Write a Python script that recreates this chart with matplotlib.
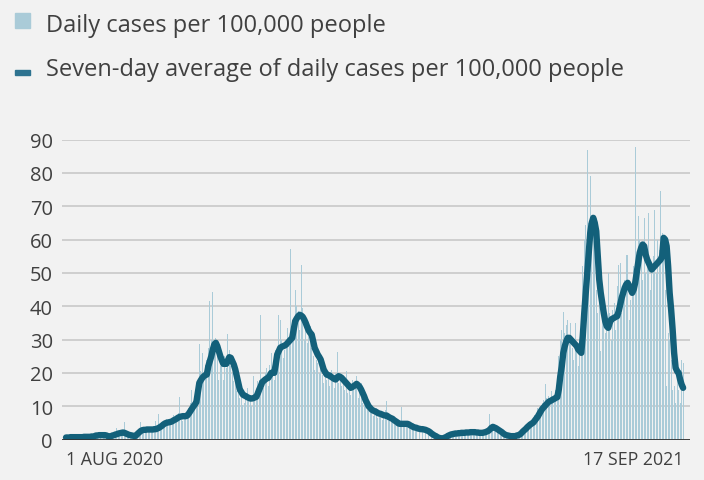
import numpy as np
import matplotlib.pyplot as plt
from matplotlib.patches import Rectangle

# Tagesdaten ab 1. Aug 2020 bis 17. Sep 2021 (eine Zeile pro Woche)
daily_cases = [
    0.5, 0.8, 0.6, 0.9, 0.6, 0.7, 0.5,
    0.6, 1.0, 0.7, 0.8, 0.9, 0.6, 0.9,
    0.7, 1.1, 0.8, 1.0, 1.2, 1.4, 1.5,
    1.1, 1.6, 1.2, 1.5, 2.0, 1.0, 0.8,
    0.7, 0.9, 1.3, 1.6, 1.8, 2.0, 3.5,
    2.2, 1.7, 2.4, 2.6, 5.2, 1.5, 1.1,
    1.3, 1.0, 0.9, 1.2, 1.1, 2.6, 3.0,
    3.2, 5.2, 2.8, 2.4, 3.6, 3.1, 2.7,
    2.9, 3.8, 2.5, 3.2, 5.5, 3.0, 7.7,
    4.0, 3.5, 4.6, 5.6, 6.1, 4.8, 5.0,
    6.2, 5.0, 7.4, 5.8, 6.6, 8.0, 12.7,
    6.0, 5.6, 6.8, 7.5, 8.2, 9.5, 11.0,
    15.0, 10.2, 12.6, 13.5, 17.0, 28.7, 20.5,
    26.0, 18.0, 22.5, 24.0, 27.5, 41.7, 30.0,
    44.2, 28.0, 30.5, 25.5, 18.0, 22.0, 24.5,
    18.0, 25.0, 21.5, 31.7, 27.0, 22.0, 20.0,
    17.5, 19.0, 14.5, 16.0, 12.5, 13.0, 10.5,
    11.0, 14.0, 15.5, 12.0, 11.5, 10.0, 19.0,
    12.0, 13.5, 17.5, 18.0, 37.4, 17.0, 15.5,
    20.0, 21.5, 16.0, 22.5, 26.0, 20.0, 18.0,
    27.0, 24.5, 37.4, 36.0, 30.0, 24.5, 27.0,
    29.0, 33.5, 28.0, 57.2, 36.0, 30.0, 45.0,
    40.0, 38.5, 33.0, 52.4, 39.5, 30.0, 35.5,
    29.0, 31.0, 34.0, 27.5, 25.0, 21.0, 24.0,
    23.0, 20.0, 22.5, 19.5, 17.0, 21.5, 18.0,
    18.5, 16.0, 21.0, 17.5, 15.5, 20.0, 26.4,
    17.0, 19.5, 16.0, 18.5, 15.0, 20.5, 14.0,
    15.0, 13.5, 18.0, 15.5, 17.5, 19.0, 12.5,
    14.0, 17.0, 11.0, 10.5, 12.0, 9.0, 8.5,
    9.0, 10.5, 7.0, 8.0, 9.5, 6.5, 7.5,
    8.5, 6.0, 7.0, 9.0, 11.5, 5.5, 6.0,
    6.5, 5.0, 6.8, 4.5, 4.0, 5.5, 4.2,
    9.7, 3.8, 4.5, 5.0, 4.0, 3.5, 4.6,
    3.0, 4.2, 3.5, 2.8, 3.6, 3.9, 2.6,
    3.4, 2.5, 2.7, 3.0, 2.2, 1.5, 1.4,
    1.2, 0.9, 0.7, 0.5, 0.4, 0.3, 0.6,
    0.5, 0.9, 1.4, 1.6, 1.2, 2.0, 1.8,
    1.5, 2.4, 1.7, 2.2, 1.9, 2.5, 1.6,
    2.3, 1.8, 2.6, 2.0, 2.4, 2.1, 2.9,
    1.8, 2.5, 2.0, 2.3, 1.6, 2.2, 2.6,
    2.0, 2.8, 3.2, 7.7, 4.0, 3.5, 3.0,
    3.3, 2.4, 2.1, 1.9, 1.7, 1.5, 1.2,
    1.0, 1.3, 0.8, 1.2, 0.9, 1.1, 1.4,
    1.6, 1.9, 2.4, 3.0, 3.6, 3.2, 4.5,
    4.8, 5.2, 5.0, 6.0, 6.5, 7.5, 8.0,
    9.5, 8.5, 10.0, 11.0, 12.0, 16.7, 12.5,
    13.0, 11.5, 14.5, 12.0, 13.5, 15.0, 17.0,
    25.0, 30.0, 33.0, 38.2, 32.0, 34.5, 36.0,
    31.0, 35.0, 27.5, 24.0, 35.0, 26.5, 22.0,
    30.0, 34.0, 52.0, 60.0, 64.5, 87.0, 65.0,
    79.0, 66.0, 62.0, 58.0, 45.0, 38.0, 42.0,
    26.5, 40.0, 35.0, 32.0, 36.0, 50.0, 38.0,
    30.0, 39.0, 41.0, 33.0, 46.0, 52.5, 53.0,
    38.0, 44.0, 48.0, 55.5, 55.5, 36.0, 42.0,
    46.0, 52.0, 87.8, 55.0, 67.0, 60.0, 58.0,
    48.0, 66.5, 50.0, 56.0, 68.0, 45.0, 53.0,
    55.0, 69.0, 50.0, 60.0, 57.0, 74.5, 62.0,
    58.0, 45.0, 16.0, 32.0, 30.0, 24.0, 15.0,
    16.0, 11.0, 21.0, 15.0, 11.0, 24.0, 23.0,
]

# Sieben-Tage-Mittel
seven_day_avg = [
    0.6, 0.6, 0.6, 0.7, 0.7, 0.7, 0.7,
    0.7, 0.7, 0.7, 0.7, 0.7, 0.8, 0.8,
    0.8, 0.8, 0.8, 0.9, 0.9, 1.0, 1.2,
    1.2, 1.3, 1.3, 1.3, 1.3, 1.3, 1.2,
    1.0, 0.9, 1.0, 1.2, 1.3, 1.5, 1.6,
    1.8, 1.9, 2.0, 2.1, 2.0, 1.8, 1.6,
    1.4, 1.3, 1.2, 1.1, 1.0, 1.3, 1.8,
    2.2, 2.6, 2.8, 2.9, 2.9, 3.0, 3.0,
    3.0, 3.0, 3.0, 3.1, 3.1, 3.3, 3.5,
    3.8, 4.1, 4.5, 4.8, 5.0, 5.1, 5.2,
    5.3, 5.5, 5.8, 6.0, 6.3, 6.6, 6.8,
    6.9, 7.0, 7.0, 7.0, 7.2, 7.8, 8.5,
    9.2, 9.9, 10.5, 11.2, 14.0, 17.0, 17.8,
    18.5, 19.0, 19.3, 19.5, 22.0, 23.5, 25.0,
    27.0, 28.5, 29.0, 28.0, 26.5, 25.0, 23.8,
    22.7, 22.7, 22.7, 23.7, 24.7, 24.5, 23.5,
    22.5, 21.0, 19.0, 17.0, 15.0, 14.3, 13.5,
    13.2, 13.0, 12.7, 12.5, 12.3, 12.3, 12.4,
    12.6, 12.8, 13.8, 15.0, 16.0, 17.2, 17.6,
    18.0, 18.3, 18.5, 19.2, 20.0, 20.0, 20.0,
    22.5, 25.5, 26.5, 27.5, 27.8, 28.0, 28.2,
    28.5, 29.0, 29.5, 30.0, 30.5, 33.0, 35.5,
    36.3, 37.0, 37.4, 37.2, 36.8, 36.0, 35.0,
    33.8, 32.7, 32.0, 31.5, 29.5, 27.5, 26.5,
    25.5, 24.8, 24.0, 22.5, 21.0, 20.2, 19.5,
    19.3, 19.2, 18.8, 18.5, 18.2, 18.0, 18.5,
    19.0, 18.8, 18.5, 18.0, 17.5, 17.0, 16.5,
    16.0, 15.5, 15.7, 16.0, 16.3, 16.7, 16.3,
    15.8, 15.0, 14.0, 13.0, 11.8, 10.9, 10.0,
    9.5, 9.0, 8.7, 8.5, 8.3, 8.0, 7.8,
    7.7, 7.5, 7.3, 7.2, 7.2, 6.9, 6.6,
    6.4, 6.2, 5.8, 5.5, 5.2, 4.8, 4.7,
    4.7, 4.7, 4.7, 4.7, 4.7, 4.5, 4.2,
    4.0, 3.7, 3.6, 3.5, 3.3, 3.2, 3.1,
    3.1, 3.0, 2.9, 2.7, 2.5, 2.2, 1.8,
    1.5, 1.2, 1.0, 0.7, 0.5, 0.4, 0.3,
    0.4, 0.6, 0.8, 1.1, 1.3, 1.5, 1.6,
    1.7, 1.8, 1.8, 1.9, 1.9, 2.0, 2.0,
    2.0, 2.1, 2.1, 2.1, 2.2, 2.2, 2.2,
    2.2, 2.1, 2.1, 2.0, 2.0, 2.0, 2.1,
    2.2, 2.4, 2.6, 3.0, 3.5, 3.8, 3.6,
    3.4, 3.1, 2.8, 2.5, 2.2, 1.8, 1.5,
    1.3, 1.2, 1.1, 1.0, 1.0, 1.0, 1.0,
    1.2, 1.3, 1.5, 1.9, 2.4, 2.8, 3.2,
    3.7, 4.1, 4.5, 4.8, 5.1, 5.7, 6.3,
    6.9, 7.7, 8.5, 9.2, 9.7, 10.2, 10.7,
    11.2, 11.5, 11.7, 12.0, 12.2, 12.5, 12.7,
    15.0, 19.0, 22.0, 26.0, 28.0, 29.5, 30.5,
    30.5, 30.0, 29.5, 29.0, 28.5, 28.0, 27.0,
    26.5, 26.0, 31.0, 38.0, 44.0, 50.0, 56.0,
    62.0, 65.0, 66.5, 65.0, 62.5, 55.0, 48.0,
    44.0, 41.0, 38.0, 35.5, 34.0, 33.5, 35.0,
    36.0, 36.3, 36.5, 36.8, 37.0, 38.5, 40.5,
    42.5, 44.0, 45.5, 46.5, 47.0, 46.0, 45.0,
    44.0, 45.0, 47.0, 50.0, 53.0, 56.0, 57.5,
    58.5, 58.0, 55.5, 54.0, 53.0, 52.0, 51.0,
    51.5, 52.0, 52.5, 53.0, 53.5, 54.0, 55.0,
    60.5, 60.0, 58.0, 52.0, 44.0, 39.0, 33.0,
    26.0, 21.5, 20.5, 20.0, 18.0, 16.5, 15.5,
]

x_labels = ['1 AUG 2020', '17 SEP 2021']
y_ticks = [0, 10, 20, 30, 40, 50, 60, 70, 80, 90]
legend_labels = ['Daily cases per 100,000 people',
                 'Seven-day average of daily cases per 100,000 people']

bg = '#f2f2f2'
bar_col = '#aacbd8'
line_col = '#13607a'
text_col = '#404040'

plt.rcParams['font.family'] = ['Open Sans', 'DejaVu Sans']

days = np.arange(len(daily_cases))

fig = plt.figure(figsize=(7.04, 4.81), dpi=100, facecolor=bg)
ax = fig.add_axes([62 / 704, 1 - 440.5 / 481, 628 / 704, 300 / 481])
ax.set_facecolor(bg)

ax.bar(days, daily_cases, width=0.65, color=bar_col, linewidth=0, zorder=2)
ax.plot(days, seven_day_avg, color=line_col, linewidth=4.6,
        solid_capstyle='round', solid_joinstyle='round', zorder=3)

ax.set_xlim(-2.7, 416.6)
ax.set_ylim(0, 90)
ax.set_yticks(y_ticks)
ax.set_yticklabels([str(v) for v in y_ticks])
ax.yaxis.grid(True, color='#cccccc', linewidth=1.3, zorder=0)
ax.axhline(0, color='#333333', linewidth=1.3, zorder=4)
for s in ax.spines.values():
    s.set_visible(False)
ax.tick_params(axis='y', length=0, pad=6.5, labelsize=14.5, labelcolor=text_col)

ax.set_xticks([0, len(days) - 1])
ax.set_xticklabels(x_labels)
ax.tick_params(axis='x', length=0, pad=7.5, labelsize=12.8, labelcolor=text_col)
xt = ax.get_xticklabels()
xt[0].set_ha('left')
xt[1].set_ha('right')

# Legende oben links
W, H = 704, 481
fig.patches.append(Rectangle((15 / W, 1 - 29 / H), 15 / W, 15 / H,
                             transform=fig.transFigure, color=bar_col))
fig.patches.append(Rectangle((15 / W, 1 - 76 / H), 15 / W, 5.5 / H,
                             transform=fig.transFigure, color='#2e7390'))
fig.text(46 / W, 1 - 31.7 / H, legend_labels[0], fontsize=17,
         color=text_col, va='baseline', ha='left')
fig.text(46 / W, 1 - 76 / H, legend_labels[1], fontsize=17,
         color=text_col, va='baseline', ha='left')

fig.savefig('out.png', dpi=100, facecolor=bg)
